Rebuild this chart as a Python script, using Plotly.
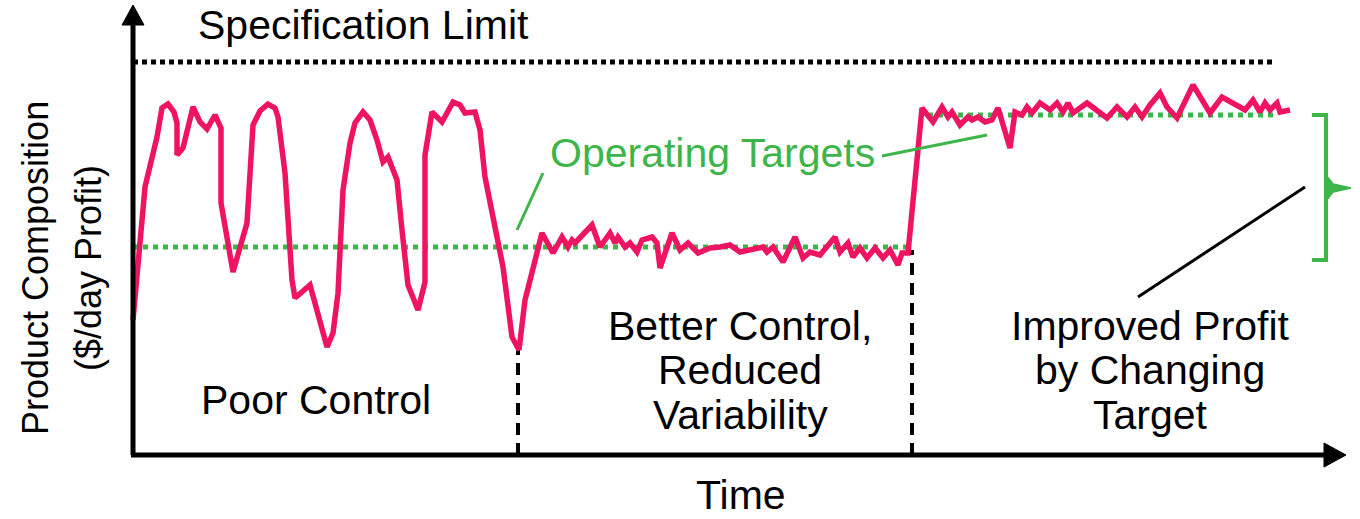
import plotly.graph_objects as go

# ---------------- data (time units / composition units) ----------------
time = [0, 12, 24, 29, 35, 41, 44, 44, 50, 55, 60, 67, 74, 82, 88, 88, 100, 114, 120, 127,
        135, 142, 145, 152, 157, 159, 162, 177, 194, 200, 205, 210, 217, 222, 230, 237, 244,
        250, 255, 264, 269, 275, 285, 292, 292, 299, 309, 315, 320, 327, 332, 342, 347, 352,
        360, 370, 379, 384, 386,
        392, 400, 409, 420, 429, 435, 439, 442, 459, 467, 477, 482, 485, 492, 497, 504, 509,
        519, 524, 527, 539, 547, 555, 565, 577, 587, 597, 607, 624, 630, 634, 640, 650, 662,
        670, 677, 687, 702, 707, 715, 720, 727, 734, 742, 750, 757, 765, 769, 775,
        789, 800, 809, 815, 819, 827, 835, 839, 845, 852, 859, 865, 877, 882, 889, 894, 899,
        907, 917, 924, 930, 935, 940, 954, 965, 974, 984, 994, 1002, 1009, 1017, 1027, 1034,
        1044, 1060, 1077, 1089, 1112, 1120, 1127, 1132, 1137, 1144, 1147, 1157]
composition = [135, 268, 318, 347, 351, 343, 332, 300, 307, 325, 348, 333, 326, 340, 327, 252,
               183, 232, 330, 344, 351, 347, 338, 282, 218, 175, 157, 170, 108, 122, 162, 265,
               312, 332, 343, 335, 315, 293, 298, 275, 225, 170, 145, 173, 300, 343, 333, 345,
               353, 350, 342, 343, 325, 278, 235, 188, 118, 107, 105,
               155, 188, 222, 202, 218, 208, 215, 212, 230, 208, 222, 212, 218, 208, 212, 203,
               215, 218, 212, 187, 222, 205, 212, 202, 207, 208, 210, 203, 207, 208, 203, 208,
               193, 218, 197, 203, 200, 218, 203, 212, 198, 207, 197, 207, 197, 205, 190, 202,
               202,
               347, 333, 348, 338, 343, 330, 338, 335, 338, 333, 335, 347, 307, 343, 340, 348,
               342, 352, 345, 352, 343, 352, 342, 352, 343, 337, 348, 338, 348, 338, 350, 362,
               348, 337, 370, 342, 358, 345, 355, 343, 352, 345, 352, 343, 345]

spec_limit = 393
spec_span = [0, 1142]
target_old = 208
target_old_span = [0, 780]
target_new = 340
target_new_span = [795, 1144]
phase_bounds = [385, 779]          # time of the two control changes
phase_bound_tops = [105, 205]      # composition at which the dashed markers stop

RED = "#EE1462"
GREEN = "#3DB54A"
BLACK = "#000000"
FONT = "Liberation Sans, Arial, sans-serif"
FS = 41

fig = go.Figure()

# Specification limit
fig.add_trace(go.Scatter(x=spec_span, y=[spec_limit, spec_limit], mode="lines",
                         line=dict(color=BLACK, width=5, dash="5px,4px"), hoverinfo="skip"))
# Operating targets
fig.add_trace(go.Scatter(x=target_old_span, y=[target_old, target_old], mode="lines",
                         line=dict(color=GREEN, width=5, dash="5px,5px"), hoverinfo="skip"))
fig.add_trace(go.Scatter(x=target_new_span, y=[target_new, target_new], mode="lines",
                         line=dict(color=GREEN, width=5, dash="5px,5px"), hoverinfo="skip"))
# Phase boundaries
for xb, yt in zip(phase_bounds, phase_bound_tops):
    fig.add_trace(go.Scatter(x=[xb, xb], y=[0, yt], mode="lines",
                             line=dict(color=BLACK, width=4, dash="12px,8px"), hoverinfo="skip"))
# Product composition
fig.add_trace(go.Scatter(x=time, y=composition, mode="lines",
                         line=dict(color=RED, width=5.5), hoverinfo="skip"))

shapes = []
# axes
shapes.append(dict(type="line", x0=0, y0=0, x1=0, y1=432, line=dict(color=BLACK, width=5)))
shapes.append(dict(type="line", x0=-2, y0=0, x1=1195, y1=0, line=dict(color=BLACK, width=5)))
shapes.append(dict(type="path", path="M -11,430 L 11,430 L 0,450 Z",
                   fillcolor=BLACK, line=dict(color=BLACK, width=1)))
shapes.append(dict(type="path", path="M 1191,12 L 1191,-12 L 1213,0 Z",
                   fillcolor=BLACK, line=dict(color=BLACK, width=1)))
# pointer lines
shapes.append(dict(type="line", x0=384, y0=225, x1=410, y1=282, line=dict(color=GREEN, width=3)))
shapes.append(dict(type="line", x0=749, y0=299, x1=854, y1=320, line=dict(color=GREEN, width=3)))
shapes.append(dict(type="line", x0=1005, y0=158, x1=1172, y1=268, line=dict(color=BLACK, width=3)))
# bracket
shapes.append(dict(type="path", path="M 1179,340 L 1193,340 L 1193,195 L 1179,195",
                   line=dict(color=GREEN, width=4)))
shapes.append(dict(type="path",
                   path="M 1193,280 L 1200,271 L 1218,267 L 1200,263 L 1193,254 Z",
                   fillcolor=GREEN, line=dict(color=GREEN, width=1.5)))

ann = []
def txt(x, y, s, color=BLACK, size=FS, angle=0):
    ann.append(dict(x=x, y=y, text=s, showarrow=False, textangle=angle,
                    xanchor="center", yanchor="middle",
                    font=dict(family=FONT, size=size, color=color)))

txt(230, 430, "Specification Limit")
txt(579, 302, "Operating Targets", color=GREEN)
txt(183, 55, "Poor Control")
txt(607, 129, "Better Control,")
txt(607, 85, "Reduced")
txt(607, 40, "Variability")
txt(1017, 129, "Improved Profit")
txt(1017, 85, "by Changing")
txt(1017, 40, "Target")
txt(608, -40, "Time")
txt(-98, 187, "Product Composition", size=36, angle=-90)
txt(-45, 187, "($/day Profit)", size=36, angle=-90)

fig.update_layout(
    width=1360, height=519,
    margin=dict(l=0, r=0, t=0, b=0),
    paper_bgcolor="white", plot_bgcolor="white",
    showlegend=False,
    xaxis=dict(range=[-133, 1227], visible=False, fixedrange=True),
    yaxis=dict(range=[-64, 455], visible=False, fixedrange=True),
    shapes=shapes, annotations=ann,
)
fig.write_html("out.html", config={"displayModeBar": False},
               post_script="document.body.style.margin='0';document.body.style.overflow='hidden';")
